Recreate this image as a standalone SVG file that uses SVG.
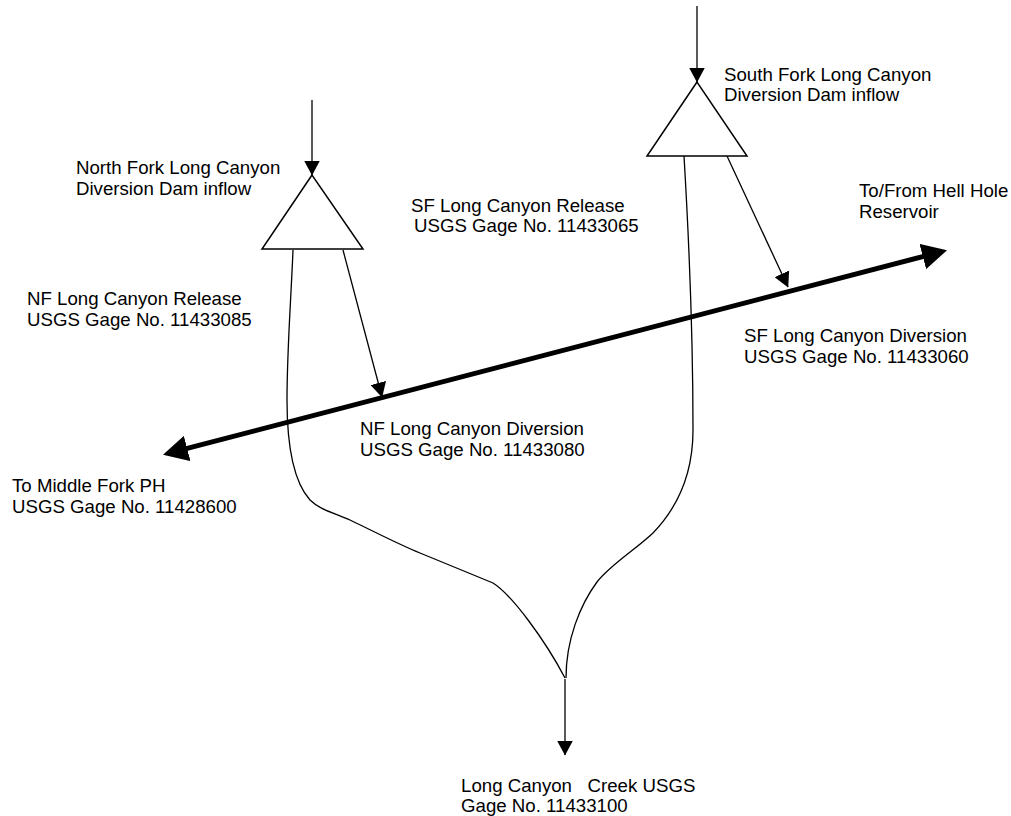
<svg xmlns="http://www.w3.org/2000/svg" width="1011" height="816" viewBox="0 0 1011 816">
<style>
text{font-family:"Liberation Sans",Arial,sans-serif;font-size:18.67px;fill:#000;white-space:pre}
.thin{fill:none;stroke:#000;stroke-width:1.3}
.tri{fill:#fff;stroke:#000;stroke-width:1.5;stroke-linejoin:miter}
.thick{fill:none;stroke:#000;stroke-width:5}
</style>
<defs>
<marker id="ah" viewBox="0 0 15 16" refX="14.5" refY="8" markerWidth="15" markerHeight="16" markerUnits="userSpaceOnUse" orient="auto"><path d="M0,0 L15,8 L0,16 z" fill="#000"/></marker>
<marker id="big" viewBox="0 0 25 26" refX="1" refY="13" markerWidth="25" markerHeight="26" markerUnits="userSpaceOnUse" orient="auto-start-reverse"><path d="M0,0 L25,13 L0,26 z" fill="#000"/></marker>
</defs>
<rect width="1011" height="816" fill="#fff"/>
<g id="connectors">
<path class="thin" d="M293,250 C291,300 287,350 287,400 C287,440 292,480 310,500 C320,510 335,513 350,520 C375,532 400,545 420,553 L493,583 C512,595 545,640 565,678"/>
<path class="thin" d="M684,156 C689,240 693,330 693,430 C693,470 680,505 653,533 C635,550 610,565 597,582 C580,605 566,640 566,678"/>
<line class="thin" x1="697" y1="6" x2="697" y2="82" marker-end="url(#ah)"/>
<line class="thin" x1="312" y1="100" x2="312" y2="175" marker-end="url(#ah)"/>
<line class="thin" x1="565" y1="679" x2="565" y2="755" marker-end="url(#ah)"/>
<line class="thin" x1="343" y1="250" x2="382" y2="397" marker-end="url(#ah)"/>
<line class="thin" x1="727" y1="156" x2="788" y2="287" marker-end="url(#ah)"/>
<line class="thick" x1="186.2" y1="448.7" x2="923.8" y2="256.3" marker-start="url(#big)" marker-end="url(#big)"/>
</g>
<g id="nf-dam">
<polygon class="tri" points="312,175 262,249 363,249"/>
<text x="76" y="174">North Fork Long Canyon</text>
<text x="76" y="195">Diversion Dam inflow</text>
</g>
<g id="sf-dam">
<polygon class="tri" points="697,82 647,156 747,156"/>
<text x="724" y="81">South Fork Long Canyon</text>
<text x="724" y="101">Diversion Dam inflow</text>
</g>
<g id="sf-release">
<text x="411" y="212">SF Long Canyon Release</text>
<text x="414" y="232">USGS Gage No. 11433065</text>
</g>
<g id="hell-hole">
<text x="859" y="197">To/From Hell Hole</text>
<text x="859" y="218">Reservoir</text>
</g>
<g id="nf-release">
<text x="27" y="305">NF Long Canyon Release</text>
<text x="27" y="326">USGS Gage No. 11433085</text>
</g>
<g id="nf-diversion">
<text x="360" y="435">NF Long Canyon Diversion</text>
<text x="360" y="456">USGS Gage No. 11433080</text>
</g>
<g id="sf-diversion">
<text x="744" y="342">SF Long Canyon Diversion</text>
<text x="744" y="363">USGS Gage No. 11433060</text>
</g>
<g id="middle-fork">
<text x="12" y="492">To Middle Fork PH</text>
<text x="12" y="513">USGS Gage No. 11428600</text>
</g>
<g id="long-canyon-creek">
<text x="461" y="792">Long Canyon   Creek USGS</text>
<text x="461" y="812">Gage No. 11433100</text>
</g>
</svg>
